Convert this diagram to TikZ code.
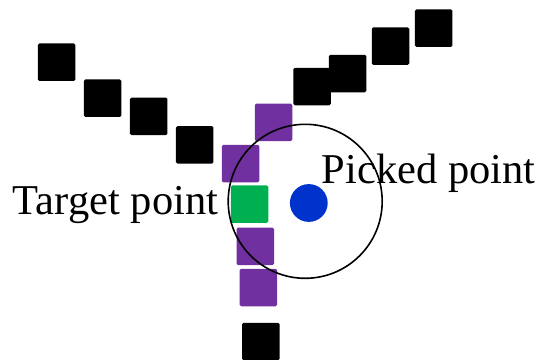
\documentclass[tikz,border=0pt]{standalone}
\usepackage{fontspec}
\setmainfont{Liberation Serif}
\definecolor{pickpurple}{HTML}{7030A0}
\definecolor{pickgreen}{HTML}{00B050}
\definecolor{pickblue}{HTML}{0033CC}
\begin{document}
\begin{tikzpicture}[x=1pt, y=-1pt,
  pixel/.style={minimum size=37.5pt, inner sep=0pt, rounded corners=1.5pt},
  label/.style={inner sep=0pt, font=\fontsize{42.5}{50}\selectfont}]
\useasboundingbox (0,0) rectangle (540,359);
\node[pixel, fill=black] (b1) at (56.7,62.2) {};
\node[pixel, fill=black] (b2) at (102.7,98.2) {};
\node[pixel, fill=black] (b3) at (148.7,116.3) {};
\node[pixel, fill=black] (b4) at (194.7,144.8) {};
\node[pixel, fill=black] (b5) at (312,86.5) {};
\node[pixel, fill=black] (b6) at (347.7,73.5) {};
\node[pixel, fill=black] (b7) at (390.5,46.2) {};
\node[pixel, fill=black] (b8) at (433.7,28.2) {};
\node[pixel, fill=black] (b9) at (260.8,341.5) {};
\node[pixel, fill=pickpurple] (p1) at (273.5,122.3) {};
\node[pixel, fill=pickpurple] (p2) at (240.5,163.5) {};
\node[pixel, fill=pickpurple] (p3) at (255.3,246.3) {};
\node[pixel, fill=pickpurple] (p4) at (258.3,287.5) {};
\node[pixel, fill=pickgreen] (target) at (249.5,204.2) {};
\node[circle, fill=pickblue, minimum size=37.8pt, inner sep=0pt] (picked) at (308.8,203) {};
\node[circle, draw, line width=1.6pt, minimum size=154pt, inner sep=0pt] (range) at (305.2,201.3) {};
\node[label, anchor=base east] (tlabel) at (218.3,214.3) {Target point};
\node[label, anchor=base west] (plabel) at (321.7,183.3) {Picked point};
\end{tikzpicture}
\end{document}
